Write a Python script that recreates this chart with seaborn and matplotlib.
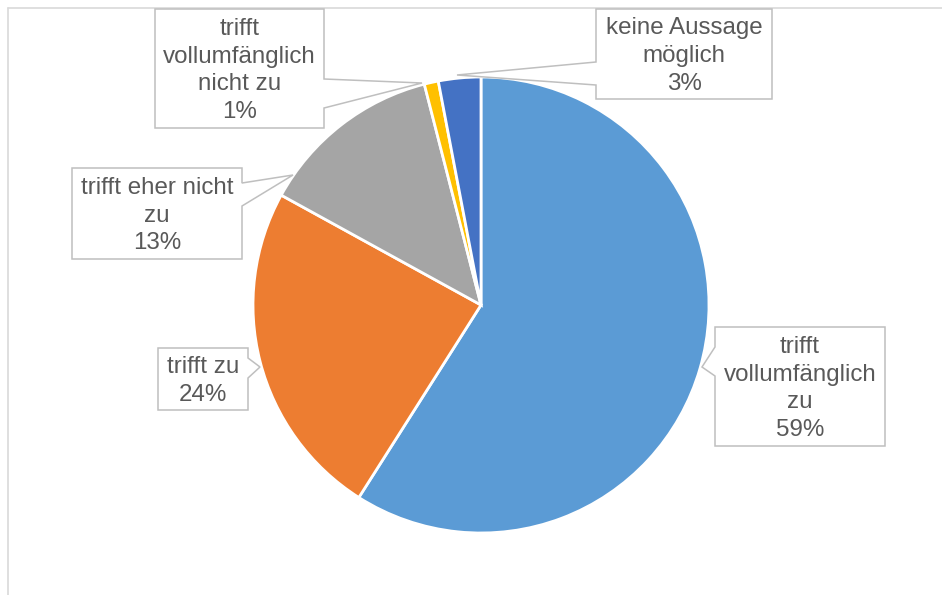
import matplotlib
matplotlib.use("Agg")
import matplotlib.pyplot as plt
from matplotlib.patches import Polygon
import seaborn as sns

# Daten
kategorien = ["trifft\nvollumfänglich\nzu", "trifft zu", "trifft eher nicht\nzu",
              "trifft\nvollumfänglich\nnicht zu", "keine Aussage\nmöglich"]
anteile = [59, 24, 13, 1, 3]
farben = ["#5B9BD5", "#ED7D31", "#A5A5A5", "#FFC000", "#4472C4"]

sns.set_theme(style="white")
plt.rcParams["font.family"] = ["Liberation Sans", "DejaVu Sans"]

W, H = 942, 595
fig = plt.figure(figsize=(W / 100, H / 100), dpi=100)
ax = fig.add_axes([0, 0, 1, 1])
ax.set_xlim(0, W)
ax.set_ylim(0, H)
ax.set_axis_off()


def py(y):
    # Pixel-y (von oben) in Datenkoordinaten
    return H - y


# Rahmen des Diagrammbereichs
ax.plot([8, 8], [py(8), py(600)], color="#D9D9D9", lw=1.2, zorder=1)
ax.plot([8, 950], [py(8), py(8)], color="#D9D9D9", lw=1.2, zorder=1)

ax.pie(anteile, colors=farben, startangle=90, counterclock=False,
       center=(481, py(305)), radius=228, frame=True,
       wedgeprops=dict(edgecolor="white", linewidth=2.0))
ax.set_xlim(0, W)
ax.set_ylim(0, H)
ax.set_aspect("auto")
ax.set_axis_off()

# Beschriftungen: Box (x0, y0, x1, y1), Seite der Spitze, Basis der Spitze, Spitze
layout = [
    ((715, 327, 885, 446), "left", (347, 376), (702, 367)),
    ((158, 348, 248, 410), "right", (358, 378), (260, 367)),
    ((72, 168, 242, 259), "right", (183, 206), (293, 175)),
    ((155, 9, 324, 128), "right", (79, 108), (422, 83)),
    ((596, 9, 772, 99), "left", (62, 85), (457, 75)),
]

for kat, wert, (box, seite, basis, spitze) in zip(kategorien, anteile, layout):
    x0, y0, x1, y1 = box
    if seite == "left":
        pts = [(x0, y0), (x1, y0), (x1, y1), (x0, y1), (x0, basis[1]),
               spitze, (x0, basis[0])]
    else:
        pts = [(x0, y0), (x1, y0), (x1, basis[0]), spitze, (x1, basis[1]),
               (x1, y1), (x0, y1)]
    pts = [(x, py(y)) for x, y in pts]
    ax.add_patch(Polygon(pts, closed=True, facecolor="white",
                         edgecolor="#BFBFBF", lw=1.1, zorder=5))
    ax.text((x0 + x1) / 2, py((y0 + y1) / 2 + 2), f"{kat}\n{wert}%",
            ha="center", va="center", fontsize=17.4, color="#595959",
            linespacing=1.35, zorder=6)

plt.savefig("out.png", dpi=100)
